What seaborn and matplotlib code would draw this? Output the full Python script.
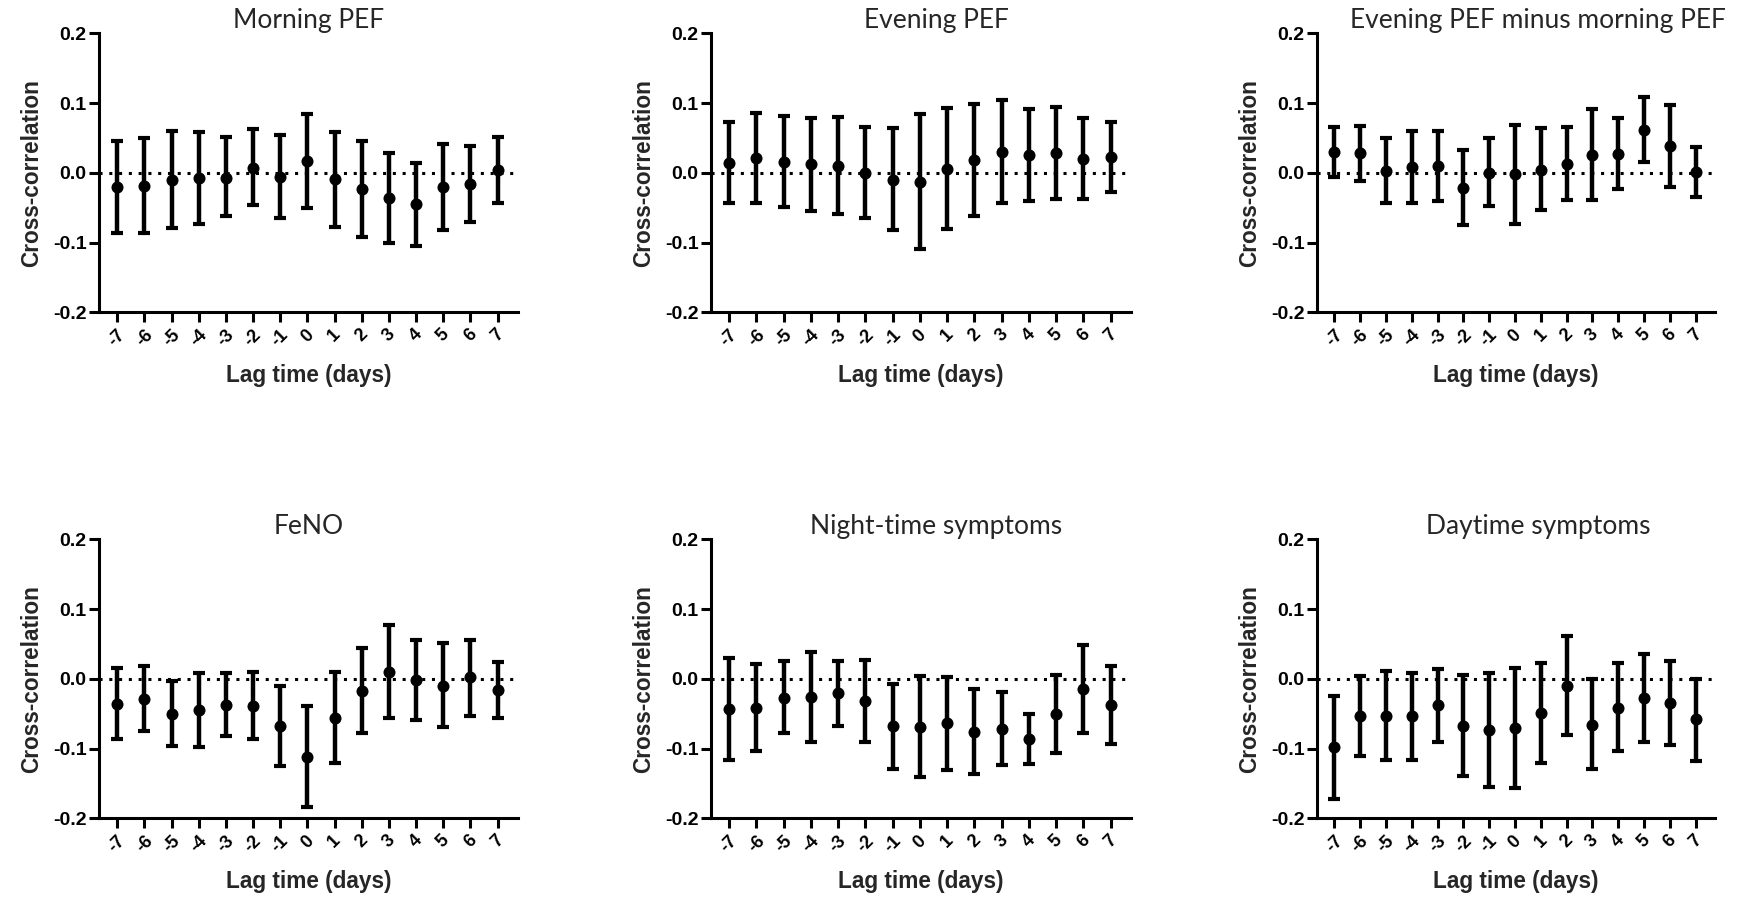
import matplotlib
matplotlib.use("Agg")
import matplotlib.pyplot as plt
import pandas as pd
import seaborn as sns

# Lag times (days) and their tick labels
lags = list(range(-7, 8))
lag_labels = [str(v) for v in lags]

# Y axis ticks
y_ticks = [-0.2, -0.1, 0.0, 0.1, 0.2]
y_tick_labels = ["-0.2", "-0.1", "0.0", "0.1", "0.2"]

titles = ["Morning PEF", "Evening PEF", "Evening PEF minus morning PEF",
          "FeNO", "Night-time symptoms", "Daytime symptoms"]

# Cross-correlation estimates with lower / upper confidence limits
morning_r = [-0.020, -0.019, -0.010, -0.008, -0.007, 0.007, -0.006, 0.017,
             -0.009, -0.023, -0.036, -0.045, -0.021, -0.016, 0.004]
morning_lo = [-0.086, -0.087, -0.079, -0.073, -0.062, -0.046, -0.065, -0.051,
              -0.077, -0.092, -0.101, -0.105, -0.082, -0.071, -0.043]
morning_hi = [0.045, 0.050, 0.060, 0.058, 0.051, 0.063, 0.054, 0.085,
              0.059, 0.046, 0.029, 0.014, 0.041, 0.039, 0.052]

evening_r = [0.014, 0.021, 0.016, 0.012, 0.010, 0.000, -0.010, -0.013,
             0.006, 0.018, 0.030, 0.026, 0.028, 0.020, 0.023]
evening_lo = [-0.043, -0.043, -0.049, -0.055, -0.059, -0.065, -0.082, -0.109,
              -0.081, -0.062, -0.043, -0.040, -0.037, -0.038, -0.027]
evening_hi = [0.073, 0.086, 0.082, 0.079, 0.080, 0.066, 0.064, 0.084,
              0.093, 0.098, 0.104, 0.092, 0.094, 0.079, 0.073]

diff_r = [0.030, 0.028, 0.002, 0.008, 0.010, -0.022, 0.000, -0.002,
          0.004, 0.012, 0.026, 0.027, 0.062, 0.038, 0.001]
diff_lo = [-0.006, -0.012, -0.043, -0.043, -0.040, -0.075, -0.048, -0.073,
           -0.054, -0.039, -0.039, -0.023, 0.015, -0.020, -0.034]
diff_hi = [0.065, 0.067, 0.050, 0.060, 0.060, 0.032, 0.050, 0.069,
           0.064, 0.065, 0.091, 0.078, 0.108, 0.097, 0.037]

feno_r = [-0.036, -0.029, -0.050, -0.045, -0.038, -0.039, -0.068, -0.112,
          -0.056, -0.018, 0.010, -0.002, -0.010, 0.002, -0.016]
feno_lo = [-0.087, -0.075, -0.096, -0.098, -0.082, -0.087, -0.125, -0.184,
           -0.121, -0.077, -0.056, -0.059, -0.069, -0.053, -0.056]
feno_hi = [0.015, 0.019, -0.003, 0.009, 0.009, 0.010, -0.010, -0.039,
           0.010, 0.044, 0.077, 0.056, 0.051, 0.056, 0.024]

night_r = [-0.043, -0.042, -0.027, -0.026, -0.021, -0.032, -0.068, -0.069,
           -0.064, -0.076, -0.072, -0.086, -0.050, -0.015, -0.037]
night_lo = [-0.116, -0.104, -0.078, -0.090, -0.067, -0.090, -0.129, -0.141,
            -0.131, -0.137, -0.124, -0.122, -0.107, -0.078, -0.093]
night_hi = [0.030, 0.021, 0.025, 0.039, 0.025, 0.027, -0.008, 0.004,
            0.003, -0.014, -0.019, -0.050, 0.005, 0.049, 0.019]

day_r = [-0.098, -0.054, -0.053, -0.054, -0.038, -0.067, -0.074, -0.070,
         -0.049, -0.010, -0.066, -0.042, -0.027, -0.035, -0.058]
day_lo = [-0.172, -0.111, -0.116, -0.117, -0.090, -0.139, -0.155, -0.156,
          -0.120, -0.081, -0.129, -0.103, -0.090, -0.095, -0.118]
day_hi = [-0.024, 0.004, 0.011, 0.009, 0.014, 0.006, 0.009, 0.016,
          0.022, 0.062, -0.001, 0.022, 0.036, 0.025, 0.000]

series = [
    (morning_r, morning_lo, morning_hi),
    (evening_r, evening_lo, evening_hi),
    (diff_r, diff_lo, diff_hi),
    (feno_r, feno_lo, feno_hi),
    (night_r, night_lo, night_hi),
    (day_r, day_lo, day_hi),
]

sns.set_theme(style="ticks")
plt.rcParams["font.family"] = ["Liberation Sans", "DejaVu Sans"]
plt.rcParams["axes.unicode_minus"] = False

W, H = 1753, 902
fig = plt.figure(figsize=(W / 100, H / 100), dpi=100)
fig.patch.set_facecolor("white")

# Axes frames in pixels: (left, right) per column, (top, bottom) per row
col_px = [(99, 518), (711, 1131), (1317, 1715)]
row_px = [(33.3, 312.3), (539.3, 818.3)]
title_x = [0.5, 0.537, 0.556]

for i, (title, (r, lo, hi)) in enumerate(zip(titles, series)):
    row, col = divmod(i, 3)
    l, rr = col_px[col]
    t, b = row_px[row]
    ax = fig.add_axes([l / W, 1 - b / H, (rr - l) / W, (b - t) / H])

    df = pd.DataFrame({"lag": lags, "r": r, "lo": lo, "hi": hi})
    ax.axhline(0, color="black", lw=2.2, linestyle=(0, (1, 2.2)), zorder=1)
    ax.errorbar(df["lag"], df["r"],
                yerr=[df["r"] - df["lo"], df["hi"] - df["r"]],
                fmt="none", ecolor="black", elinewidth=3.2,
                capsize=4.2, capthick=3.0, zorder=2)
    sns.scatterplot(data=df, x="lag", y="r", ax=ax, color="black",
                    s=75, edgecolor="black", linewidth=0, zorder=3,
                    legend=False)

    ax.set_xlim(-7.67, 7.75)
    ax.set_ylim(-0.2, 0.2)
    ax.set_xticks(lags)
    ax.set_xticklabels(lag_labels, rotation=45, ha="center",
                       fontsize=13, fontweight="bold")
    ax.set_yticks(y_ticks)
    ax.set_yticklabels(y_tick_labels, fontsize=14, fontweight="bold")
    ax.tick_params(axis="both", length=7, width=2.2, color="black",
                   labelcolor="black")
    ax.tick_params(axis="x", pad=3)
    ax.tick_params(axis="y", pad=2)

    for side in ("top", "right"):
        ax.spines[side].set_visible(False)
    for side in ("left", "bottom"):
        ax.spines[side].set_linewidth(2.2)
        ax.spines[side].set_color("black")

    ax.set_xlabel("Lag time (days)", fontsize=16.3, fontweight="bold",
                  labelpad=10)
    ax.set_ylabel("Cross-correlation", fontsize=16.3, fontweight="bold",
                  labelpad=7)
    ax.set_title(title, fontsize=19, family=["Lato", "DejaVu Sans"],
                 x=title_x[col], pad=4)

fig.savefig("out.png", dpi=100, facecolor="white")
